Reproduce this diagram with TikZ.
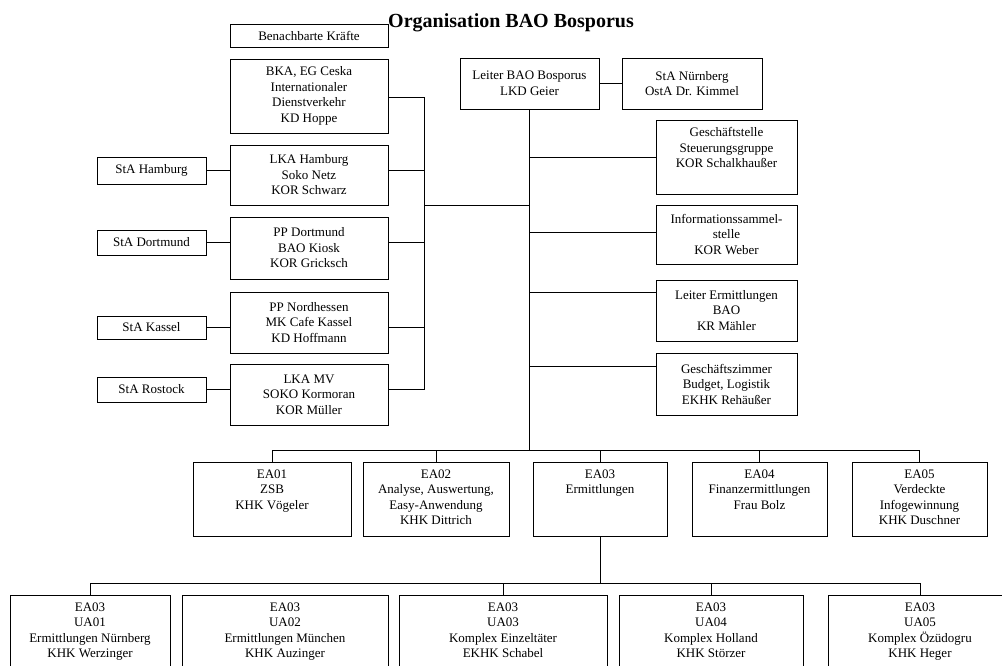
\documentclass[tikz,border=0pt]{standalone}
\usepackage{fontspec}
\setmainfont{Liberation Serif}
\newcommand\boxfont{\fontsize{13}{15.5}\selectfont}
\begin{document}
\begin{tikzpicture}[x=1pt,y=-1pt,
  box/.style={draw, line width=0.9pt, inner sep=0pt, align=center, font=\boxfont},
  lab/.style={anchor=north, yshift=-8pt, align=center, font=\boxfont, inner sep=0pt},
  ln/.style={line width=0.9pt}]
\useasboundingbox (0,0) rectangle (1002,665);
\clip (0,0) rectangle (1002,665);
% title
\node[font=\bfseries\fontsize{20}{24}\selectfont, anchor=base, inner sep=0pt] (title) at (511,27) {Organisation BAO Bosporus};
% left column
\node[box, minimum width=158, minimum height=23] (bench) at (309,35.5) {Benachbarte Kräfte};
\node[box, minimum width=158, minimum height=74] (bka) at (309,96) {BKA, EG Ceska\\Internationaler\\Dienstverkehr\\KD Hoppe};
\node[box, minimum width=158, minimum height=60] (lkahh) at (309,175) {LKA Hamburg\\Soko Netz\\KOR Schwarz};
\node[box, minimum width=158, minimum height=62] (ppdo) at (309,248) {PP Dortmund\\BAO Kiosk\\KOR Gricksch};
\node[box, minimum width=158, minimum height=61] (ppnh) at (309,322.5) {PP Nordhessen\\MK Cafe Kassel\\KD Hoffmann};
\node[box, minimum width=158, minimum height=61] (lkamv) at (309,394.5) {LKA MV\\SOKO Kormoran\\KOR Müller};
\node[box, minimum width=109, minimum height=27] (stahh) at (151.5,170.5) {StA Hamburg};
\node[box, minimum width=109, minimum height=25] (stado) at (151.5,242.5) {StA Dortmund};
\node[box, minimum width=109, minimum height=23] (staks) at (151.5,327.5) {StA Kassel};
\node[box, minimum width=109, minimum height=25] (stari) at (151.5,389.5) {StA Rostock};
% head
\node[box, minimum width=139, minimum height=51] (leiter) at (529.5,83.5) {Leiter BAO Bosporus\\LKD Geier};
\node[box, minimum width=140, minimum height=51] (stan) at (692,83.5) {StA Nürnberg\\OstA Dr. Kimmel};
% right column
\node[box, minimum width=141, minimum height=74,
  label={[lab]north:{Geschäftstelle\\Steuerungsgruppe\\KOR Schalkhaußer}}] (gst) at (726.5,157) {};
\node[box, minimum width=141, minimum height=59] (info) at (726.5,234.5) {Informationssammel-\\stelle\\KOR Weber};
\node[box, minimum width=141, minimum height=61] (lerm) at (726.5,310.5) {Leiter Ermittlungen\\BAO\\KR Mähler};
\node[box, minimum width=141, minimum height=62] (gsz) at (726.5,384) {Geschäftszimmer\\Budget, Logistik\\EKHK Rehäußer};
% EA row
\node[box, minimum width=158, minimum height=74, label={[lab]north:{EA01\\ZSB\\KHK Vögeler}}] (ea01) at (272,499) {};
\node[box, minimum width=146, minimum height=74, label={[lab]north:{EA02\\Analyse, Auswertung,\\Easy-Anwendung\\KHK Dittrich}}] (ea02) at (436,499) {};
\node[box, minimum width=134, minimum height=74, label={[lab]north:{EA03\\Ermittlungen}}] (ea03) at (600,499) {};
\node[box, minimum width=135, minimum height=74, label={[lab]north:{EA04\\Finanzermittlungen\\Frau Bolz}}] (ea04) at (759.5,499) {};
\node[box, minimum width=135, minimum height=74, label={[lab]north:{EA05\\Verdeckte\\Infogewinnung\\KHK Duschner}}] (ea05) at (919.5,499) {};
% UA row
\node[box, minimum width=160, minimum height=110, label={[lab]north:{EA03\\UA01\\Ermittlungen Nürnberg\\KHK Werzinger}}] (ua01) at (90,650) {};
\node[box, minimum width=206, minimum height=110, label={[lab]north:{EA03\\UA02\\Ermittlungen München\\KHK Auzinger}}] (ua02) at (285,650) {};
\node[box, minimum width=208, minimum height=110, label={[lab]north:{EA03\\UA03\\Komplex Einzeltäter\\EKHK Schabel}}] (ua03) at (503,650) {};
\node[box, minimum width=184, minimum height=110, label={[lab]north:{EA03\\UA04\\Komplex Holland\\KHK Störzer}}] (ua04) at (711,650) {};
\node[box, minimum width=184, minimum height=110, label={[lab]north:{EA03\\UA05\\Komplex Özüdogru\\KHK Heger}}] (ua05) at (920,650) {};
% coordinates
\coordinate (lbtop) at (424,97);
\coordinate (lbbot) at (424,389.5);
\coordinate (lj) at (424,205);
\coordinate (eab) at (530,450);
\coordinate (uab) at (594,583);
\coordinate (infoc) at (656,232);
\coordinate (lermc) at (656,292);
\coordinate (gszc) at (656,366);
% left connectors
\draw[ln] (lbtop) -- (lbbot);
\draw[ln] (bka.east |- lbtop) -- (lbtop);
\draw[ln] (stahh.east) -- (stahh.east -| lkahh.west);
\draw[ln] (stahh.east -| lkahh.east) -- (stahh.east -| lbtop);
\draw[ln] (stado.east) -- (stado.east -| ppdo.west);
\draw[ln] (stado.east -| ppdo.east) -- (stado.east -| lbtop);
\draw[ln] (staks.east) -- (staks.east -| ppnh.west);
\draw[ln] (staks.east -| ppnh.east) -- (staks.east -| lbtop);
\draw[ln] (stari.east) -- (stari.east -| lkamv.west);
\draw[ln] (stari.east -| lkamv.east) -- (lbbot);
\draw[ln] (lj) -- (lj -| leiter.south);
% main spine
\draw[ln] (leiter.east) -- (stan.west);
\draw[ln] (leiter.south) -- (leiter.south |- eab);
\draw[ln] (gst.west) -- (gst.west -| leiter.south);
\draw[ln] (infoc) -- (infoc -| leiter.south);
\draw[ln] (lermc) -- (lermc -| leiter.south);
\draw[ln] (gszc) -- (gszc -| leiter.south);
% EA bus
\draw[ln] (ea01.north) -- (ea01.north |- eab) -- (ea05.north |- eab) -- (ea05.north);
\draw[ln] (ea02.north) -- (ea02.north |- eab);
\draw[ln] (ea03.north) -- (ea03.north |- eab);
\draw[ln] (ea04.north) -- (ea04.north |- eab);
% UA bus
\draw[ln] (ea03.south) -- (ea03.south |- uab);
\draw[ln] (ua01.north) -- (ua01.north |- uab) -- (ua05.north |- uab) -- (ua05.north);
\draw[ln] (ua03.north) -- (ua03.north |- uab);
\draw[ln] (ua04.north) -- (ua04.north |- uab);
\end{tikzpicture}
\end{document}
